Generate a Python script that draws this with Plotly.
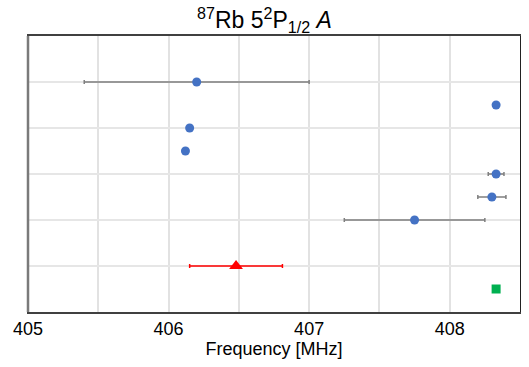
import plotly.graph_objects as go

# Blue measurements (row positions, frequency, uncertainty)
blue_rows = [5, 4.5, 4, 3.5, 3, 2.5, 2]
blue_freq = [406.20, 408.33, 406.15, 406.12, 408.33, 408.30, 407.75]
blue_err = [0.80, 0.0, 0.0, 0.0, 0.056, 0.10, 0.50]

red_rows = [1]
red_freq = [406.48]
red_err = [0.33]

green_rows = [0.5]
green_freq = [408.33]

x_ticks = [405, 406, 407, 408]

fig = go.Figure()
fig.add_trace(go.Scatter(
    x=blue_freq, y=blue_rows, mode="markers",
    marker=dict(color="#4472C4", size=9, symbol="circle"),
    error_x=dict(type="data", array=blue_err, color="#7F7F7F", thickness=1.5, width=2),
    showlegend=False))
fig.add_trace(go.Scatter(
    x=red_freq, y=red_rows, mode="markers",
    marker=dict(color="#FF0000", size=12, symbol="triangle-up"),
    error_x=dict(type="data", array=red_err, color="#FF0000", thickness=1.5, width=2),
    showlegend=False))
fig.add_trace(go.Scatter(
    x=green_freq, y=green_rows, mode="markers",
    marker=dict(color="#00B050", size=9, symbol="square"),
    showlegend=False))

fig.update_layout(
    width=529, height=367,
    margin=dict(l=28, r=9, t=36, b=55),
    paper_bgcolor="white", plot_bgcolor="white",
    font=dict(family="Liberation Sans, Arial, sans-serif", color="#000"),
    title=dict(text="<sup>87</sup>Rb 5<sup>2</sup>P<sub>1/2</sub> <i>A</i>",
               x=0.5, xanchor="center", y=0.945, yanchor="middle",
               font=dict(size=23, color="#000")),
    xaxis=dict(range=[405, 408.5], tickvals=x_ticks, ticktext=[str(t) for t in x_ticks],
               showgrid=True, gridcolor="#E2E2E2", gridwidth=1.5,
               tickfont=dict(size=18), ticks="", zeroline=False,
               showline=True, linecolor="#404040", linewidth=1.5, mirror=True,
               title=dict(text="Frequency [MHz]", font=dict(size=18), standoff=2)),
    yaxis=dict(range=[0, 6], tickvals=[1, 2, 3, 4, 5], showticklabels=False,
               showgrid=True, gridcolor="#E6E6E6", gridwidth=2, ticks="", zeroline=False,
               showline=True, linecolor="#222", linewidth=1.2, mirror=True),
)
# grid at every 0.5 on x
fig.update_xaxes(minor=dict(dtick=0.5, showgrid=True, gridcolor="#E2E2E2", gridwidth=1.5))
fig.add_shape(type="line", xref="paper", yref="paper", x0=0, x1=0, y0=0, y1=1,
              line=dict(color="#7A7A7A", width=2.5))
fig.write_html("out.html")
